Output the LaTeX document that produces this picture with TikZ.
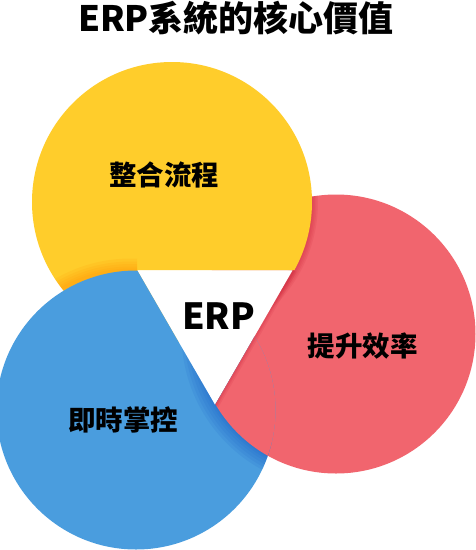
\documentclass[tikz,border=0pt]{standalone}
\usepackage{fontspec}
\usetikzlibrary{calc}
\setmainfont{Noto Sans CJK TC}
\definecolor{cy}{HTML}{FFCD2B}
\definecolor{cr}{HTML}{F1656E}
\definecolor{cb}{HTML}{4A9DDE}
\definecolor{sy}{HTML}{FF9000}
\definecolor{sr}{HTML}{C81E36}
\definecolor{sb}{HTML}{1458C4}
\newcommand\outerbox{(-200,-200) -- (700,-200) -- (700,800) -- (-200,800) -- cycle}
\newcommand\ywedge{(A) -- (337,616.4) -- (537,270) -- cycle}
\newcommand\rwedge{(B) -- (-107,270) -- (93,616.4) -- cycle}
\newcommand\bwedge{(C) -- (415,58.6) -- (15,58.6) -- cycle}
\tikzset{
  lab/.style={font=\fontsize{27.5}{32}\selectfont\bfseries, inner sep=0pt},
}
\begin{document}
\begin{tikzpicture}[x=1pt,y=-1pt]
\fill[white] (0,0) rectangle (475,550);
\useasboundingbox (0,0) rectangle (475,550);
\coordinate (A) at (137,270);
\coordinate (B) at (293,270);
\coordinate (C) at (215,405);
\coordinate (Yc) at (172,202);
\coordinate (Rc) at (336,334);
\coordinate (Bc) at (136,410);
\coordinate (Bs) at (131,410);
% 1. red shape
\begin{scope}
  \clip \outerbox \rwedge;
  \fill[cr] (Rc) circle[radius=139.5pt];
\end{scope}
% 2. shadows on red (yellow edge and straight edge)
\begin{scope}
  \clip \outerbox \rwedge;
  \clip (Rc) circle[radius=139.5pt];
  \foreach \w in {12,9,6,3}
    \draw[sr, line width=\w pt, opacity=0.11] (Yc) circle[radius=140pt];
  \foreach \w in {8,5,3}
    \draw[sr, line width=\w pt, opacity=0.12] (B) -- (C);
\end{scope}
% 3. yellow shape
\begin{scope}
  \clip \outerbox \ywedge;
  \fill[cy] (Yc) circle[radius=140pt];
\end{scope}
% 4. shadow of blue on yellow
\begin{scope}
  \clip \outerbox \ywedge;
  \clip (Yc) circle[radius=140pt];
  \clip (-50,0) rectangle (137,550);
  \foreach \w in {24,18,13,8,4}
    \draw[sy, line width=\w pt, opacity=0.12] (Bs) circle[radius=139.5pt];
\end{scope}
% 5. blue shape
\begin{scope}
  \clip \outerbox \bwedge;
  \fill[cb] (Bc) circle[radius=139.5pt];
\end{scope}
% 6. shadow of red on blue
\begin{scope}
  \clip \outerbox \bwedge;
  \clip (Bc) circle[radius=139.5pt];
  \foreach \w in {30,24,18,12,7,3}
    \draw[sb, line width=\w pt, opacity=0.10] (Rc) circle[radius=139.5pt];
\end{scope}
% 7. red over blue
\begin{scope}
  \clip \outerbox \bwedge;
  \clip (Bc) circle[radius=139.5pt];
  \clip \outerbox \rwedge;
  \clip (Rc) circle[radius=139.5pt];
  \fill[cr] (Rc) circle[radius=139.5pt];
  \foreach \w in {8,5,3}
    \draw[sr, line width=\w pt, opacity=0.12] (B) -- (C);
\end{scope}
% texts
\node[font=\fontsize{35}{40}\selectfont\bfseries, inner sep=0pt] (title) at (236,18) {ERP系統的核心價值};
\node[lab] (yl) at (164.5,175) {整合流程};
\node[lab] (rl) at (362.5,346.5) {提升效率};
\node[lab] (bl) at (123,420) {即時掌控};
\node[font=\fontsize{36}{40}\selectfont\bfseries, inner sep=0pt] (erp) at (218.5,316) {ERP};
\end{tikzpicture}
\end{document}
